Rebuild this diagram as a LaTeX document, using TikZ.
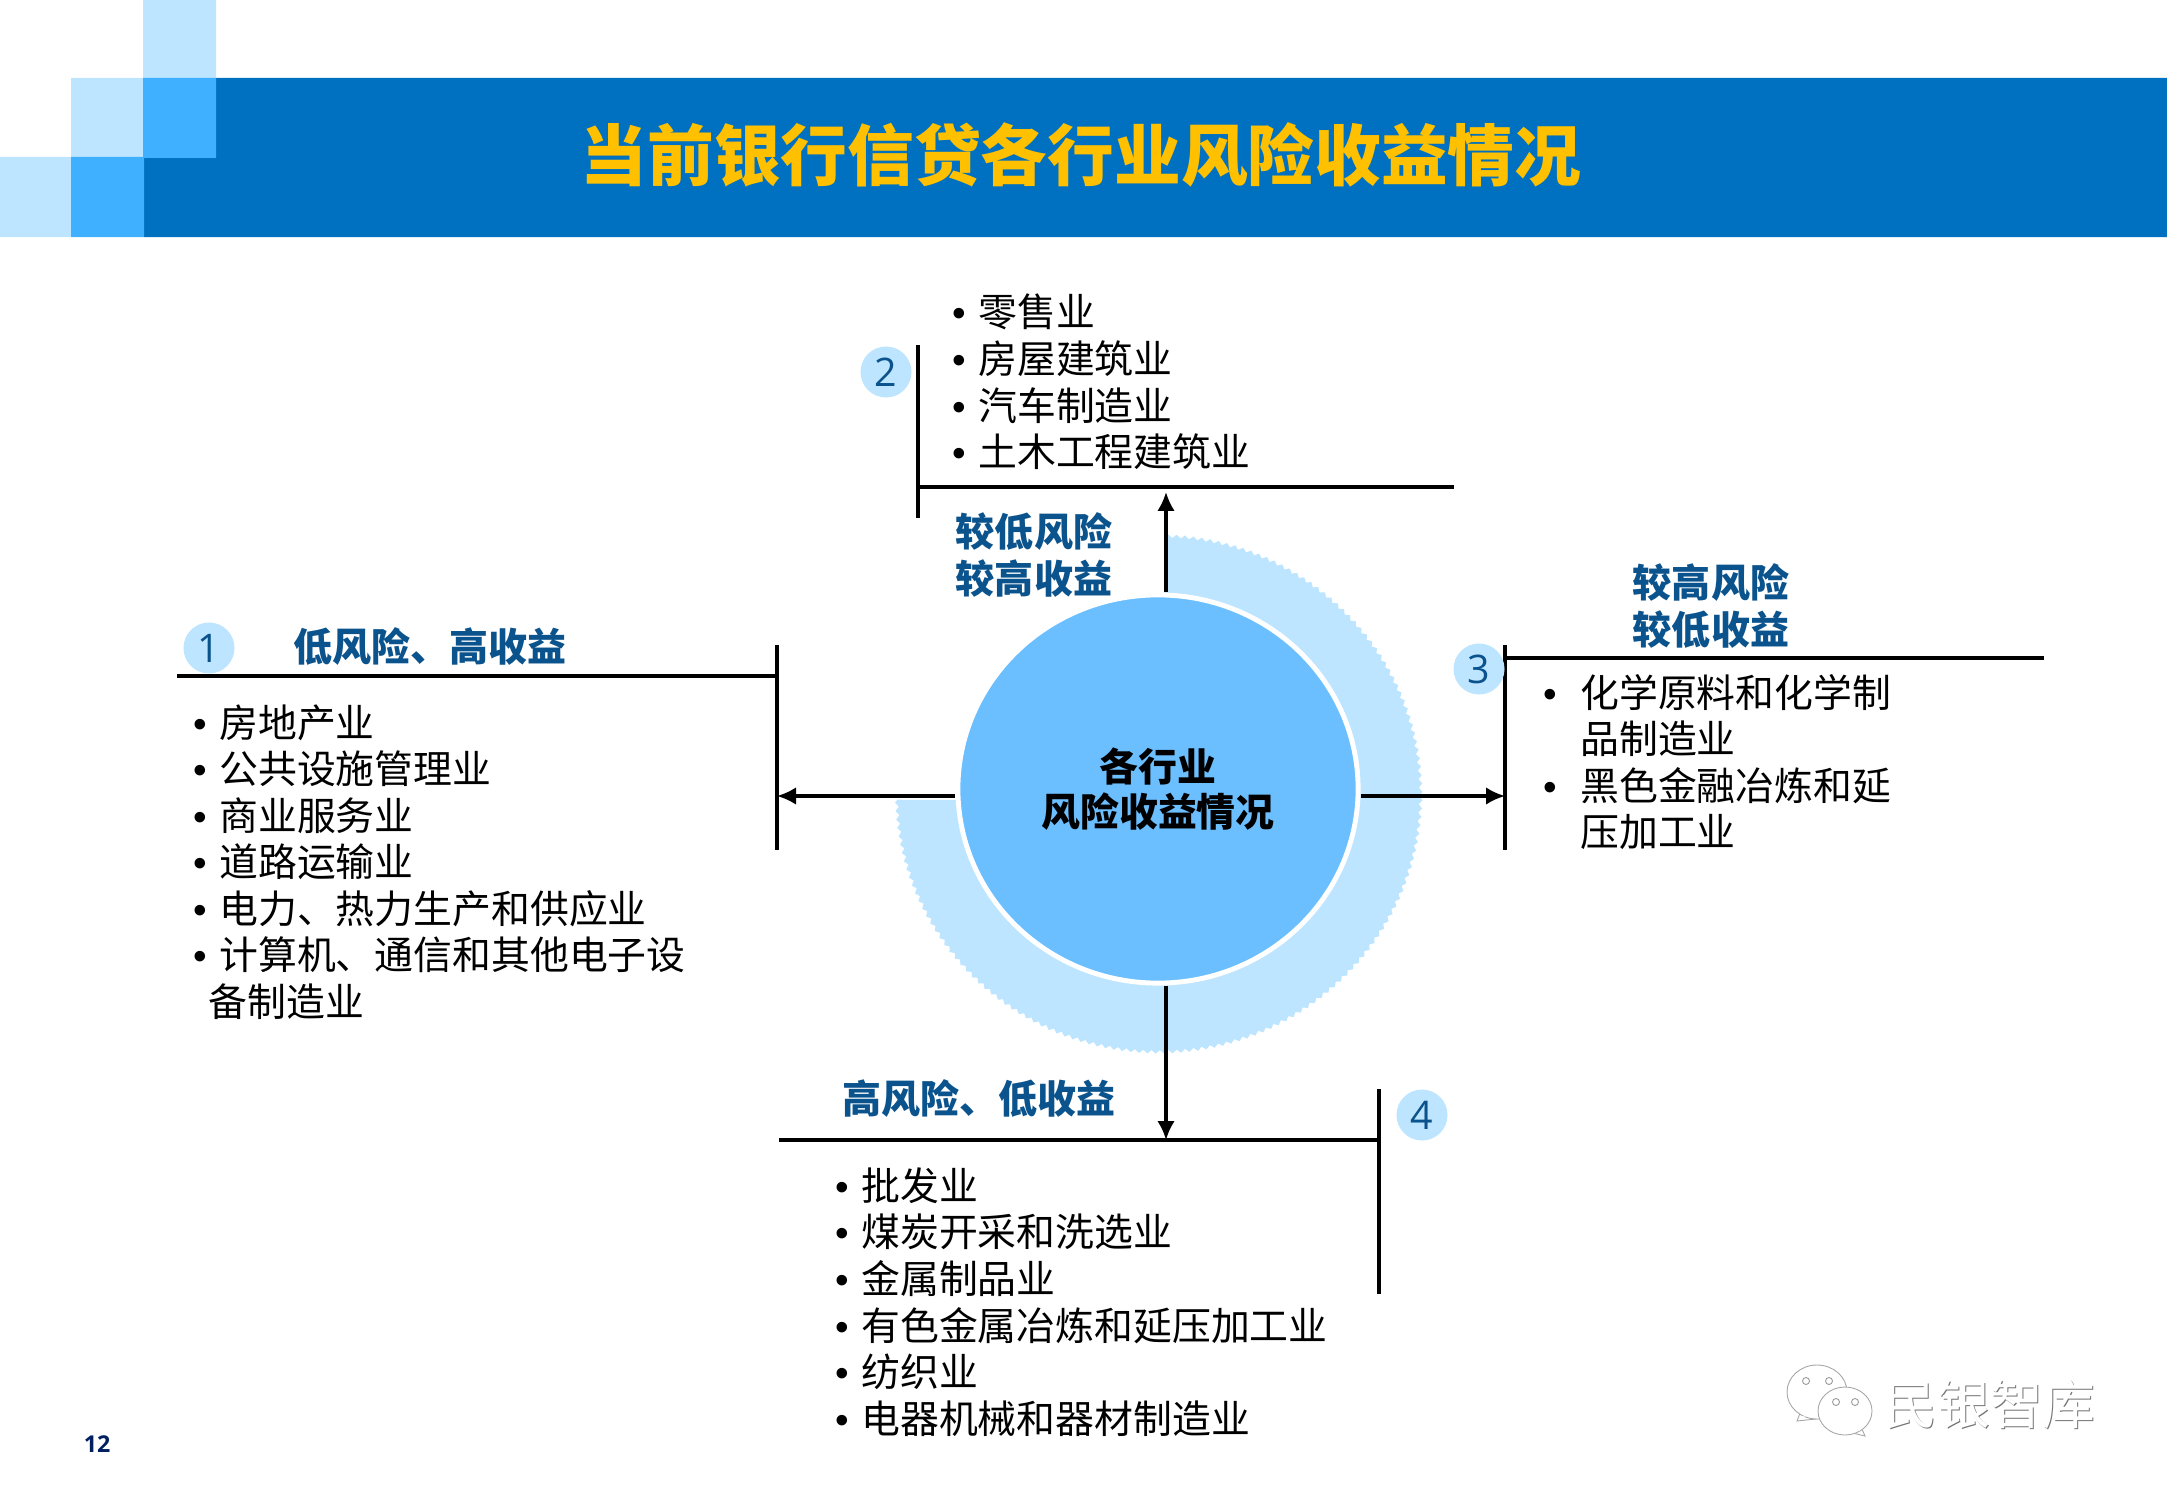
\documentclass[tikz,border=0pt]{standalone}
\usepackage{fontspec}
\setmainfont{Noto Sans CJK SC}
\newfontfamily\digitfont{Open Sans}
\newfontfamily\dotfont{Liberation Sans}
\usetikzlibrary{arrows.meta,shapes.geometric,decorations.pathmorphing}
\definecolor{bandblue}{RGB}{0,112,192}
\definecolor{midblue}{RGB}{62,176,255}
\definecolor{paleblue}{RGB}{189,229,255}
\definecolor{hubblue}{RGB}{107,191,255}
\definecolor{titleyellow}{RGB}{255,192,0}
\definecolor{headblue}{RGB}{11,83,140}
\definecolor{pagenavy}{RGB}{0,32,96}
\newcommand{\itm}{\makebox[7.3pt][l]{\dotfont •}}
\newcommand{\itmgap}{\hspace*{7.3pt}}
\tikzset{
  axisline/.style={draw=black, line width=0.9pt},
  axisarrow/.style={axisline, -{Latex[length=5.4pt,width=5pt]}},
  itemlist/.style={anchor=west, inner sep=0pt, align=left, text=black,
    font=\fontsize{11.05pt}{13.25pt}\selectfont},
  headtext/.style={inner sep=0pt, align=center, text=headblue,
    font=\fontsize{11.1pt}{13.2pt}\selectfont\bfseries},
  numdot/.style={circle, fill=paleblue, minimum size=0.51cm, inner sep=0pt, text=headblue,
    font=\fontsize{11.2pt}{12pt}\selectfont\digitfont},
  markbubble/.style={draw=black!35, fill=white, line width=0.25pt}
}
\begin{document}
\begin{tikzpicture}[x=0.01cm,y=-0.01cm]
\useasboundingbox (0,0) rectangle (2167,1500);
% banner
\fill[bandblue] (216,78) rectangle (2167,157) (144,157) rectangle (2167,237);
\fill[paleblue] (143,0) rectangle (216,78) (71,78) rectangle (143,157) (0,157) rectangle (71,237);
\fill[midblue] (143,78) rectangle (216,158) (71,157) rectangle (144,237);
\node[inner sep=0pt, text=titleyellow, font=\fontsize{18.97pt}{21pt}\selectfont\bfseries] (title) at (1081,155) {当前银行信贷各行业风险收益情况};
% ring
\fill[paleblue, decoration={zigzag, amplitude=0.5pt, segment length=2.4pt}]
  (1159,800) -- (1166,536) decorate {arc[start angle=-88.4, delta angle=267.1, x radius=262, y radius=258]} -- cycle;
\node[ellipse, fill=hubblue, draw=white, line width=1.4pt, minimum width=4cm, minimum height=3.88cm, inner sep=0pt,
      align=center, font=\fontsize{11.05pt}{13pt}\selectfont\bfseries] (hub) at (1158,789) {各行业\\风险收益情况};
% ends of the lines
\coordinate (leftA) at (177,676);
\coordinate (leftB) at (777,676);
\coordinate (leftT) at (777,645);
\coordinate (leftE) at (777,850);
\coordinate (leftM) at (777,796);
\coordinate (topA) at (918,487);
\coordinate (topB) at (1454,487);
\coordinate (topT) at (918,345);
\coordinate (topE) at (918,518);
\coordinate (topM) at (1166,492);
\coordinate (rightA) at (1505,658);
\coordinate (rightB) at (2044,658);
\coordinate (rightT) at (1505,645);
\coordinate (rightE) at (1505,850);
\coordinate (rightM) at (1505,796);
\coordinate (lowA) at (779,1140);
\coordinate (lowB) at (1379,1140);
\coordinate (lowT) at (1379,1089);
\coordinate (lowE) at (1379,1294);
\coordinate (lowM) at (1166,1140);
\draw[axisline] (leftA) -- (leftB);
\draw[axisline] (leftT) -- (leftE);
\draw[axisline] (topA) -- (topB);
\draw[axisline] (topT) -- (topE);
\draw[axisline] (rightA) -- (rightB);
\draw[axisline] (rightT) -- (rightE);
\draw[axisline] (lowA) -- (lowB);
\draw[axisline] (lowT) -- (lowE);
\draw[axisarrow] (hub.west |- leftM) -- (leftM);
\draw[axisarrow] (hub.east |- rightM) -- (rightM);
\draw[axisarrow] (hub.north -| topM) -- (topM);
\draw[axisarrow] (hub.south -| lowM) -- (lowM);
% numbers
\node[numdot] (one) at (209,648) {1};
\node[numdot] (two) at (886,372) {2};
\node[numdot] (three) at (1479,669) {3};
\node[numdot] (four) at (1422,1115) {4};
% headings
\node[headtext] (headone) at (430,647) {低风险、高收益};
\node[headtext] (headtwo) at (1034,555) {较低风险\\较高收益};
\node[headtext] (headthree) at (1711,606) {较高风险\\较低收益};
\node[headtext] (headfour) at (979,1098) {高风险、低收益};
% lists
\node[itemlist] (listone) at (193,862) {\itm 房地产业\\\itm 公共设施管理业\\\itm 商业服务业\\\itm 道路运输业\\\itm 电力、热力生产和供应业\\\itm 计算机、通信和其他电子设\\\hspace*{4.3pt}备制造业};
\node[itemlist] (listtwo) at (952,382) {\itm 零售业\\\itm 房屋建筑业\\\itm 汽车制造业\\\itm 土木工程建筑业};
\node[itemlist] (listthree) at (1543,762) {\itm\hspace*{3.1pt}化学原料和化学制\\\itmgap\hspace*{3.1pt}品制造业\\\itm\hspace*{3.1pt}黑色金融冶炼和延\\\itmgap\hspace*{3.1pt}压加工业};
\node[itemlist] (listfour) at (835,1302) {\itm 批发业\\\itm 煤炭开采和洗选业\\\itm 金属制品业\\\itm 有色金属冶炼和延压加工业\\\itm 纺织业\\\itm 电器机械和器材制造业};
% page number
\node[inner sep=0pt, text=pagenavy, font=\fontsize{6.6pt}{8pt}\selectfont\digitfont\bfseries] (pagenum) at (97,1444) {12};
% watermark
\node[inner sep=0pt, text=black!55, font=\fontsize{15pt}{17pt}\selectfont] (markshade) at (1991,1405) {民银智库};
\node[inner sep=0pt, text=white, font=\fontsize{15pt}{17pt}\selectfont] (marktext) at (1990,1404) {民银智库};
\draw[markbubble] (1797,1421) -- (1803,1405) -- (1825,1418) -- cycle;
\draw[markbubble] (1817,1392) ellipse (30 and 27);
\fill[white] (1797,1421) ++(6,-4) -- ++(8,-14) -- ++(10,8) -- cycle;
\draw[markbubble] (1865,1436) -- (1858,1420) -- (1840,1430) -- cycle;
\draw[markbubble] (1845,1411) ellipse (27 and 24);
\fill[white] (1860,1431) -- ++(-6,-14) -- ++(-10,8) -- cycle;
\foreach \ex/\ey in {1806/1381,1829/1381,1836/1402,1855/1402}
  \draw[black!40, fill=white, line width=0.25pt] (\ex,\ey) circle (3.5);
\end{tikzpicture}
\end{document}
